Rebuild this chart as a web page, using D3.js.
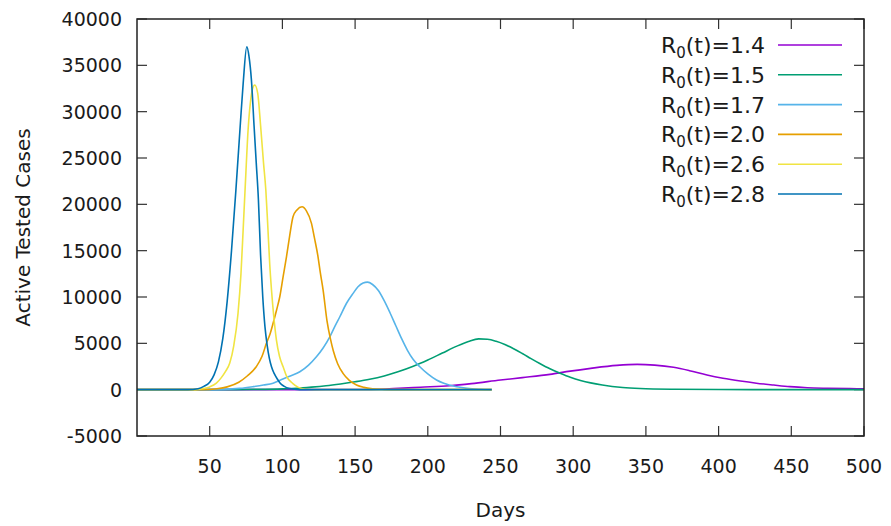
<!DOCTYPE html>
<html><head><meta charset="utf-8">
<script src="https://cdn.jsdelivr.net/npm/d3@7/dist/d3.min.js"></script>
<style>
body{margin:0;background:#fff}
svg{display:block}
text{font-family:"DejaVu Sans",Verdana,sans-serif;fill:#1a1a1a}
</style>
</head><body>
<svg id="chart" width="891" height="526"></svg>
<script>
// ---- data ----
const xTicks = [50,100,150,200,250,300,350,400,450,500];
const yTicks = [-5000,0,5000,10000,15000,20000,25000,30000,35000,40000];
const seriesLabels = ["1.4","1.5","1.7","2.0","2.6","2.8"];
const seriesColors = ["#9400d3","#009e73","#56b4e9","#e69f00","#f0e442","#0072b2"];

const days14 = [0,100,130,150,167,180,195,215,230,250,265,284,298,312,330,344,356,369,380,392,403,415,426,438,449,461,475,490,500];
const vals14 = [0,0,10,20,50,140,260,420,650,1040,1300,1650,2000,2300,2620,2730,2650,2410,2050,1580,1230,930,700,500,330,210,150,110,90];

const days15 = [0,60,80,100,110,120,130,140,150,160,170,180,190,200,210,220,228,235,241,247,253,259,265,271,277,284,291,298,305,312,320,334,346,370,400,450,500];
const vals15 = [0,0,30,90,150,270,420,620,850,1120,1480,1950,2520,3200,3950,4700,5200,5480,5440,5220,4870,4420,3900,3350,2820,2250,1780,1350,1000,730,500,230,120,40,10,0,0];

const days17 = [0,50,60,70.7,80,87,93.6,98,105,112,118,123.4,128,132.6,136,139.5,144,148.6,152,155.5,158.5,162,166,170,174,178,182,186,190,194.5,200,206,211,220,227,236,244];
const vals17 = [0,0,30,140,330,500,700,1000,1450,1930,2650,3550,4500,5710,6800,7870,9300,10390,11100,11500,11600,11350,10700,9600,8300,6900,5500,4250,3250,2470,1700,1040,680,310,140,40,0];

const days20 = [0,45,55,62,70,76,82,86,89,91.5,93.6,96,98.2,100.5,102.8,105,107.3,110,113.5,116.5,120,122,124.5,126,128,130.7,133,135,138,141.7,146,151,156,162,170,180,244];
const vals20 = [0,0,100,300,800,1500,2470,3600,5000,6000,7160,8600,10030,12200,14340,16600,18660,19400,19740,19300,17950,16400,14340,12700,10750,7400,5500,4200,2800,1760,1000,500,250,100,30,0,0];

const days26 = [0,40,46,50,54.6,58,61,63.8,66.5,69.5,71.5,73,74.7,76.4,78,79.5,81,83,85,87,88.6,90,91.3,92.5,94,95.9,98,100.5,103,107,111,116,122,244];
const vals26 = [0,0,120,300,710,1300,2000,2870,4700,8270,12500,17230,22800,28020,31000,32500,32880,32000,28500,24500,21540,17500,13500,10750,8000,5350,3600,2470,1400,680,250,50,0,0];

const days28 = [0,35,42,46,50,53,56,59,62,65,68,71,73,75.5,77,78.7,80.5,82,83.5,85,86.5,88,89.5,91,92.5,94.5,96.5,98.5,101,105,112,244];
const vals28 = [0,0,100,350,800,1600,3000,5500,9500,15000,21500,28500,33000,37000,36000,33400,28500,24500,20500,14500,10000,6800,4800,3400,2470,1700,1150,700,380,120,0,0];

const seriesDays = [days14,days15,days17,days20,days26,days28];
const seriesVals = [vals14,vals15,vals17,vals20,vals26,vals28];

// ---- layout ----
const L = 137, R = 864, T = 19, B = 436;
const svg = d3.select("#chart");
const x = d3.scaleLinear().domain([0,500]).range([L,R]);
const y = d3.scaleLinear().domain([-5000,40000]).range([B,T]);

svg.append("defs").append("clipPath").attr("id","clip")
  .append("rect").attr("x",L).attr("y",T).attr("width",R-L).attr("height",B-T);

// ticks (inward, mirrored)
const tickLen = 10;
const tg = svg.append("g").attr("stroke","#333").attr("stroke-width",1.2);
xTicks.forEach(t=>{
  tg.append("line").attr("x1",x(t)).attr("x2",x(t)).attr("y1",B).attr("y2",B-tickLen);
  tg.append("line").attr("x1",x(t)).attr("x2",x(t)).attr("y1",T).attr("y2",T+tickLen);
});
yTicks.forEach(t=>{
  tg.append("line").attr("x1",L).attr("x2",L+tickLen).attr("y1",y(t)).attr("y2",y(t));
  tg.append("line").attr("x1",R).attr("x2",R-tickLen).attr("y1",y(t)).attr("y2",y(t));
});

// tick labels
svg.append("g").selectAll("text").data(xTicks).join("text")
  .attr("x",d=>x(d)).attr("y",466).attr("dy","0.36em")
  .attr("text-anchor","middle").attr("font-size","19px").text(d=>d);
svg.append("g").selectAll("text").data(yTicks).join("text")
  .attr("x",122).attr("y",d=>y(d)).attr("dy","0.36em")
  .attr("text-anchor","end").attr("font-size","19px").text(d=>d);

// axis titles
svg.append("text").attr("x",(L+R)/2).attr("y",510).attr("dy","0.36em")
  .attr("text-anchor","middle").attr("font-size","20px").text("Days");
svg.append("text").attr("transform",`translate(23,${(T+B)/2}) rotate(-90)`)
  .attr("dy","0.36em").attr("text-anchor","middle").attr("font-size","20px").text("Active Tested Cases");

// curves
const line = d3.line().x(d=>x(d[0])).y(d=>y(d[1])).curve(d3.curveMonotoneX);
const cg = svg.append("g").attr("clip-path","url(#clip)");
seriesDays.forEach((ds,i)=>{
  const pts = ds.map((d,j)=>[d, seriesVals[i][j]]);
  cg.append("path").attr("d",line(pts)).attr("fill","none")
    .attr("stroke",seriesColors[i]).attr("stroke-width",1.6).attr("stroke-linejoin","round");
});

// border
svg.append("rect").attr("x",L).attr("y",T).attr("width",R-L).attr("height",B-T)
  .attr("fill","none").attr("stroke","#222").attr("stroke-width",1.5);

// legend
const lg = svg.append("g");
seriesLabels.forEach((lab,i)=>{
  const ly = 45 + i*29.8;
  const t = lg.append("text").attr("x",765).attr("y",ly+8).attr("text-anchor","end").attr("font-size","22px");
  t.append("tspan").text("R");
  t.append("tspan").attr("font-size","15px").attr("dy",5).text("0");
  t.append("tspan").attr("dy",-5).text("(t)=" + lab);
  lg.append("line").attr("x1",778).attr("x2",842).attr("y1",ly).attr("y2",ly)
    .attr("stroke",seriesColors[i]).attr("stroke-width",1.6);
});
</script>
</body></html>
